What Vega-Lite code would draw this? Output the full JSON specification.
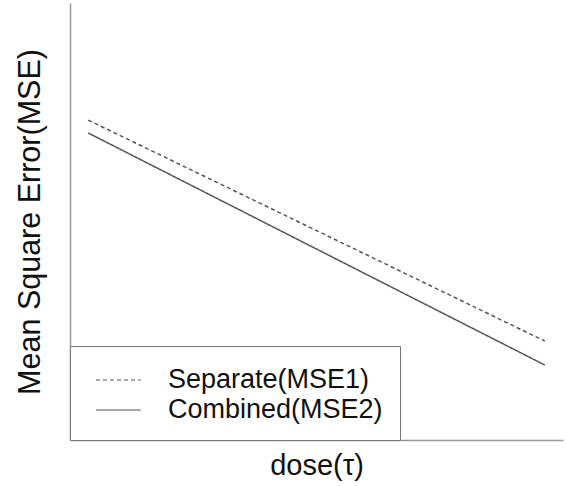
{
  "$schema": "https://vega.github.io/schema/vega-lite/v6.json",
  "width": 493,
  "height": 437,
  "autosize": "none",
  "padding": {"left": 70, "top": 3, "right": 4, "bottom": 46},
  "config": {"view": {"stroke": null}, "font": "Liberation Sans"},
  "data": {
    "values": [
      {"dose": 1, "mse": 0.732, "series": "Separate(MSE1)"},
      {"dose": 26, "mse": 0.2265, "series": "Separate(MSE1)"},
      {"dose": 1, "mse": 0.7025, "series": "Combined(MSE2)"},
      {"dose": 26, "mse": 0.1716, "series": "Combined(MSE2)"}
    ]
  },
  "mark": {"type": "line", "color": "#555555", "strokeWidth": 1.5},
  "encoding": {
    "x": {
      "field": "dose",
      "type": "quantitative",
      "scale": {"domain": [0, 27], "nice": false},
      "axis": {
        "title": "dose(τ)",
        "labels": false,
        "ticks": false,
        "grid": false,
        "domainColor": "#999999",
        "domainWidth": 1.5,
        "titleFontSize": 29,
        "titleFontWeight": "normal",
        "titlePadding": 11,
        "titleColor": "#111111"
      }
    },
    "y": {
      "field": "mse",
      "type": "quantitative",
      "scale": {"domain": [0, 1], "nice": false},
      "axis": {
        "title": "Mean Square Error(MSE)",
        "labels": false,
        "ticks": false,
        "grid": false,
        "domainColor": "#999999",
        "domainWidth": 1.5,
        "titleFontSize": 30.5,
        "titleFontWeight": "normal",
        "titlePadding": 25,
        "titleColor": "#111111"
      }
    },
    "strokeDash": {
      "field": "series",
      "type": "nominal",
      "scale": {"domain": ["Separate(MSE1)", "Combined(MSE2)"], "range": [[4, 3], [1, 0]]},
      "legend": {
        "title": null,
        "orient": "bottom-left",
        "offset": 0,
        "padding": 17,
        "strokeColor": "#777777",
        "fillColor": "white",
        "symbolType": "M-0.5,0H2.3",
        "symbolSize": 1024,
        "symbolStrokeWidth": 1.2,
        "symbolStrokeColor": "#555555",
        "labelFontSize": 27,
        "labelOffset": 47,
        "labelLimit": 500,
        "rowPadding": 0,
        "labelColor": "#111111",
        "labelFont": "Liberation Sans"
      }
    }
  }
}
